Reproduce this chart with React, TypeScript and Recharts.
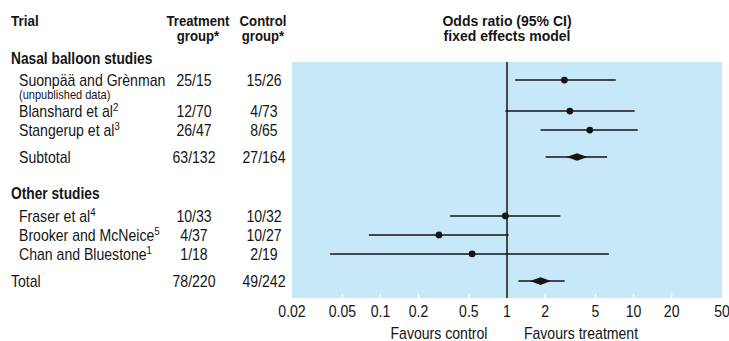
import {
  ScatterChart,
  Scatter,
  XAxis,
  YAxis,
  ReferenceArea,
  ReferenceLine,
} from "recharts";

const FONT = '"Liberation Sans", Arial, sans-serif';
const INK = "#151515";
const PANEL = "#c6e8f8";

// trials, top to bottom
const studies = [
  "Suonpää and Grènman",
  "Blanshard et al",
  "Stangerup et al",
  "Subtotal",
  "Fraser et al",
  "Brooker and McNeice",
  "Chan and Bluestone",
  "Total",
];
const refs = ["", "2", "3", "", "4", "5", "1", ""];
const treatment = ["25/15", "12/70", "26/47", "63/132", "10/33", "4/37", "1/18", "78/220"];
const control = ["15/26", "4/73", "8/65", "27/164", "10/32", "10/27", "2/19", "49/242"];
const oddsRatio = [2.84, 3.14, 4.51, 3.58, 0.97, 0.29, 0.53, 1.84];
const ciLow = [1.16, 0.97, 1.84, 2.02, 0.355, 0.081, 0.04, 1.23];
const ciHigh = [7.24, 10.2, 10.8, 6.18, 2.64, 1.03, 6.38, 2.86];
const pooled = [false, false, false, true, false, false, false, true];
// row position in text lines from the top of the panel
const rowSlot = [0.95, 2.58, 3.58, 5, 8.1, 9.1, 10.1, 11.53];

const groups = ["Nasal balloon studies", "Other studies"];
const groupSlot = [-0.2, 6.9];

const xTicks = [0.02, 0.05, 0.1, 0.2, 0.5, 1, 2, 5, 10, 20, 50];
const innerTicks = [0.05, 0.1, 0.2, 0.5, 2, 5, 10, 20];

const PANEL_END = 12.42;

const rows = studies.map((name, i) => ({
  name,
  ref: refs[i],
  treatment: treatment[i],
  control: control[i],
  or: oddsRatio[i],
  lo: ciLow[i],
  hi: ciHigh[i],
  slot: rowSlot[i],
  pooled: pooled[i],
}));

// condensed-looking text: no narrow face installed, so squeeze horizontally
function CText({ x, y, anchor = "start", size = 16, bold = false, sx = 0.88, children }: any) {
  return (
    <text
      transform={`translate(${x},${y}) scale(${sx},1)`}
      textAnchor={anchor}
      fontSize={size}
      fontWeight={bold ? "bold" : "normal"}
      fontFamily={FONT}
      fill={INK}
    >
      {children}
    </text>
  );
}

function RowTick(props: any) {
  const { y, payload } = props;
  const v = payload.value;
  const base = y + 5.6;
  const gi = groupSlot.indexOf(v);
  if (gi >= 0) {
    return (
      <CText x={11} y={base} bold sx={0.86}>
        {groups[gi]}
      </CText>
    );
  }
  const r = rows.find((d) => d.slot === v);
  if (!r) return null;
  return (
    <g>
      <CText x={r.name === "Total" ? 11 : 19} y={base}>
        {r.name}
        {r.ref && (
          <tspan dy={-6} fontSize={11}>
            {r.ref}
          </tspan>
        )}
      </CText>
      {r.name.startsWith("Suonp") && (
        <CText x={19} y={base + 13} size={12} sx={0.92}>
          (unpublished data)
        </CText>
      )}
      <CText x={194} y={base} anchor="middle">
        {r.treatment}
      </CText>
      <CText x={264} y={base} anchor="middle">
        {r.control}
      </CText>
    </g>
  );
}

function OddsTick(props: any) {
  const { x, y, payload } = props;
  return (
    <CText x={x} y={y + 19} anchor="middle">
      {String(payload.value)}
    </CText>
  );
}

const Dot = (p: any) => <circle cx={p.cx} cy={p.cy} r={3.4} fill={INK} />;
const Diamond = (p: any) => (
  <polygon
    points={`${p.cx - 10.5},${p.cy} ${p.cx},${p.cy - 3.8} ${p.cx + 10.5},${p.cy} ${p.cx},${p.cy + 3.8}`}
    fill={INK}
  />
);

export default function App() {
  return (
    <div style={{ position: "absolute", left: 0, top: 0, width: 729, height: 341, background: "#fff" }}>
      <ScatterChart width={729} height={341} margin={{ top: 43, right: 7, bottom: 0, left: 0 }}>
        <XAxis
          type="number"
          dataKey="or"
          scale="log"
          domain={[0.02, 50]}
          ticks={xTicks}
          interval={0}
          allowDataOverflow
          axisLine={false}
          tickLine={false}
          tickSize={0}
          tickMargin={0}
          height={43}
          tick={<OddsTick />}
        />
        <YAxis
          type="number"
          dataKey="slot"
          domain={[-1, PANEL_END]}
          reversed
          ticks={[...groupSlot, ...rowSlot]}
          interval={0}
          width={292}
          axisLine={false}
          tickLine={false}
          tick={<RowTick />}
        />
        <ReferenceArea x1={0.02} x2={50} y1={0} y2={PANEL_END} fill={PANEL} fillOpacity={1} stroke="none" />
        {innerTicks.map((t) => (
          <ReferenceLine
            key={t}
            segment={[
              { x: t, y: PANEL_END },
              { x: t, y: PANEL_END - 0.22 },
            ]}
            stroke="#fff"
            strokeWidth={1.5}
          />
        ))}
        <ReferenceLine
          segment={[
            { x: 1, y: 0 },
            { x: 1, y: PANEL_END },
          ]}
          stroke={INK}
          strokeWidth={1.5}
        />
        {rows.map((r) => (
          <ReferenceLine
            key={r.name}
            segment={[
              { x: r.lo, y: r.slot },
              { x: r.hi, y: r.slot },
            ]}
            stroke={INK}
            strokeWidth={1.5}
          />
        ))}
        <Scatter data={rows.filter((r) => !r.pooled)} shape={Dot} isAnimationActive={false} />
        <Scatter data={rows.filter((r) => r.pooled)} shape={Diamond} isAnimationActive={false} />
        <CText x={11} y={26} bold size={15} sx={0.9}>Trial</CText>
        <CText x={198} y={26} bold size={14} sx={0.94} anchor="middle">Treatment</CText>
        <CText x={198} y={41} bold size={14} sx={0.94} anchor="middle">group*</CText>
        <CText x={263} y={26} bold size={14} sx={0.94} anchor="middle">Control</CText>
        <CText x={263} y={41} bold size={14} sx={0.94} anchor="middle">group*</CText>
        <CText x={507} y={26} bold size={14} sx={1} anchor="middle">Odds ratio (95% CI)</CText>
        <CText x={507} y={41} bold size={14} sx={1} anchor="middle">fixed effects model</CText>
        <CText x={439} y={339} anchor="middle">Favours control</CText>
        <CText x={581} y={339} anchor="middle">Favours treatment</CText>
      </ScatterChart>
    </div>
  );
}
